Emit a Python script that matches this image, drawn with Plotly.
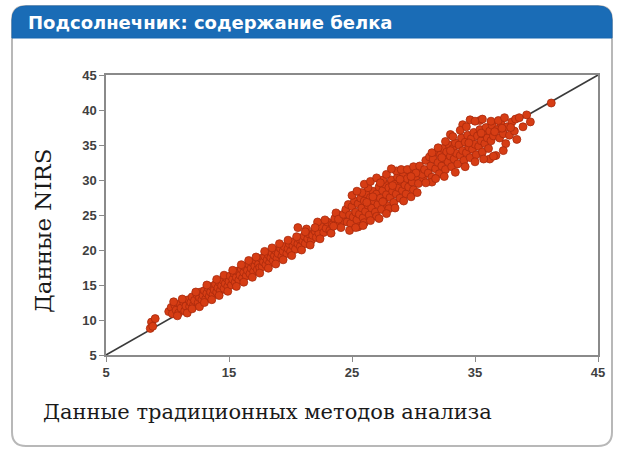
import plotly.graph_objects as go

# Sunflower protein content: reference lab method vs NIRS prediction (%)
# Samples grouped by range for readability.
lab_low = [
    8.6, 8.7, 8.8, 9.0,
    10.1, 10.3, 10.4, 10.6, 10.7, 10.9, 11.0, 11.1, 11.3, 11.4,
    11.5, 11.7, 11.8, 11.9, 12.0, 12.1, 12.2, 12.4, 12.5, 12.6,
    12.7, 12.8, 12.9, 13.0, 13.1, 13.2, 13.3, 13.4, 13.5, 13.6,
    13.7, 13.8, 13.9, 14.0, 14.1, 14.2, 14.3, 14.4, 14.5, 14.6,
    14.7, 14.8, 14.9, 15.0,
    10.5, 10.8, 11.2, 11.6, 12.0, 12.3, 12.6, 13.0, 13.2, 13.6,
    14.0, 14.2, 14.6, 14.9,
]
nirs_low = [
    8.8, 9.7, 9.1, 10.2,
    11.2, 11.8, 10.9, 12.1, 11.4, 11.0, 12.3, 11.7, 12.6, 11.3,
    12.0, 12.9, 11.9, 12.5, 13.3, 12.1, 12.8, 13.6, 12.5, 13.2,
    14.0, 12.9, 13.5, 14.2, 13.0, 13.8, 14.6, 13.4, 14.0, 14.8,
    13.6, 14.3, 15.1, 14.0, 14.6, 15.4, 14.2, 14.9, 15.7, 14.5,
    15.2, 16.0, 14.8, 15.5,
    12.6, 10.6, 13.0, 11.0, 11.6, 14.0, 11.9, 12.5, 15.0, 12.9,
    15.8, 13.5, 16.4, 14.1,
]

lab_mid = [
    15.1, 15.2, 15.3, 15.4, 15.5, 15.6, 15.7, 15.8, 15.9, 16.0,
    16.1, 16.2, 16.3, 16.4, 16.5, 16.6, 16.7, 16.8, 16.9, 17.0,
    17.1, 17.2, 17.3, 17.4, 17.5, 17.6, 17.7, 17.8, 17.9, 18.0,
    18.1, 18.2, 18.3, 18.4, 18.5, 18.6, 18.7, 18.8, 18.9, 19.0,
    19.2, 19.3, 19.4, 19.5, 19.7, 19.8, 19.9, 20.0, 20.2, 20.3,
    20.4, 20.6, 20.7, 20.8, 21.0, 21.1, 21.2, 21.4, 21.5, 21.7,
    21.8, 22.0, 22.1, 22.3, 22.5, 22.7, 22.9, 23.0, 23.2, 23.4,
    23.6, 23.8, 24.0, 24.2, 20.6, 22.2, 21.3,
    15.3, 15.6, 16.0, 16.2, 16.6, 16.9, 17.2, 17.5, 17.9, 18.2,
    18.5, 18.8, 19.1, 19.4, 19.8, 20.1, 20.5, 20.9, 21.2, 21.6,
    22.0, 22.4, 22.8, 23.3, 23.7, 24.1, 23.5, 23.9, 24.3,
]
nirs_mid = [
    16.3, 15.0, 15.8, 16.7, 15.4, 16.1, 17.0, 15.7, 16.4, 17.3,
    16.0, 16.8, 17.6, 16.3, 17.1, 18.0, 16.6, 17.4, 18.2, 16.9,
    17.7, 18.5, 17.2, 18.0, 17.5, 18.8, 17.6, 18.3, 19.1, 17.9,
    18.6, 19.3, 18.2, 18.9, 19.6, 18.5, 19.2, 19.9, 18.8, 19.5,
    20.2, 19.1, 19.8, 20.5, 19.5, 20.2, 20.9, 19.8, 20.6, 21.2,
    20.1, 20.9, 21.6, 20.5, 21.3, 22.0, 20.9, 21.6, 22.3, 21.4,
    22.1, 22.7, 21.8, 22.4, 23.3, 22.5, 23.1, 24.0, 22.8, 23.6,
    24.5, 23.7, 24.9, 24.1, 23.2, 24.0, 23.0,
    17.1, 14.8, 17.9, 15.4, 18.5, 16.1, 19.0, 16.7, 19.8, 17.4,
    20.3, 18.0, 20.9, 18.6, 21.4, 19.2, 21.9, 20.0, 22.6, 20.7,
    23.2, 21.6, 24.3, 22.4, 25.3, 23.2, 23.4, 24.4, 25.1,
]

lab_cluster_a = [
    24.5, 24.6, 24.7, 24.8, 24.9, 25.0, 25.1, 25.2, 25.3, 25.4,
    25.5, 25.6, 25.7, 25.8, 25.9, 26.0, 26.1, 26.2, 26.3, 26.4,
    26.5, 26.6, 26.7, 26.8, 26.9, 27.0, 27.1, 27.2, 27.3, 27.4,
    27.5, 27.6, 27.7, 27.8, 27.9, 28.0, 28.1, 28.2, 28.3, 28.4,
    28.5, 28.6, 28.7, 28.8, 28.9, 29.0, 29.1, 29.2, 29.3, 29.4,
    29.5, 29.6, 29.8, 29.9, 30.0, 30.2, 30.4, 30.6, 30.8,
    26.3, 27.5, 28.6, 25.8, 29.0, 27.0, 26.0, 28.0, 25.5, 29.6,
    25.0, 25.4, 26.0, 26.5, 27.0, 27.3, 27.8, 28.2, 24.8, 25.3,
    25.9, 26.5, 27.2, 27.8, 28.5, 29.2, 29.8, 30.3, 26.7, 27.5,
    28.3, 28.9, 29.5, 30.0, 26.2,
]
nirs_cluster_a = [
    25.8, 24.0, 26.5, 25.0, 23.8, 26.2, 24.7, 27.0, 25.4, 24.3,
    26.6, 25.1, 27.4, 26.0, 24.6, 27.0, 25.5, 28.0, 26.4, 25.0,
    27.5, 26.0, 28.4, 27.0, 25.4, 28.0, 26.5, 29.0, 27.4, 25.8,
    28.5, 27.0, 29.4, 27.9, 26.3, 28.9, 27.5, 30.0, 28.4, 26.8,
    29.4, 28.0, 30.4, 28.9, 27.4, 29.8, 28.5, 30.8, 29.3, 28.0,
    30.2, 29.0, 31.0, 29.7, 28.6, 30.5, 29.5, 31.2, 30.3,
    28.9, 30.0, 31.3, 28.2, 31.5, 24.8, 23.9, 25.9, 23.3, 31.4,
    27.8, 28.4, 29.4, 29.8, 30.3, 29.6, 30.8, 31.6, 22.8, 23.2,
    23.5, 24.2, 24.5, 25.2, 26.0, 27.0, 27.6, 28.2, 27.6, 26.9,
    29.2, 30.1, 31.5, 31.9, 26.8,
]

lab_cluster_b = [
    30.5, 30.7, 30.9, 31.0, 31.2, 31.3, 31.4, 31.5, 31.6, 31.8,
    31.9, 32.0, 32.1, 32.2, 32.3, 32.4, 32.5, 32.6, 32.7, 32.8,
    32.9, 33.0, 33.1, 33.2, 33.3, 33.4, 33.5, 33.6, 33.7, 33.8,
    33.9, 34.0, 34.1, 34.2, 34.3, 34.4, 34.5, 34.6, 34.7, 34.8,
    34.9, 35.0, 35.1, 35.2, 35.3, 35.4, 35.5, 35.6, 35.7, 35.8,
    35.9, 36.0, 36.1, 36.2, 36.3, 36.4, 36.5, 36.7, 36.8, 37.0,
    37.1, 37.3, 37.5, 37.6, 37.8, 38.0, 38.2, 38.4,
    34.6, 35.4, 36.2, 31.5, 33.0, 34.0,
    31.0, 31.8, 32.5, 33.4, 34.2, 35.0, 35.7, 36.5, 37.3, 31.5,
    32.0, 32.6, 33.2, 33.8, 34.3, 35.0, 35.6, 36.3, 36.9, 37.4,
    37.9, 38.3, 33.0, 34.5, 35.5, 36.6, 37.2, 32.3, 30.2, 29.8,
    38.6, 38.9, 39.2, 39.5, 41.2,
]
nirs_cluster_b = [
    32.0, 30.8, 31.5, 32.8, 31.0, 33.3, 32.0, 30.4, 33.0, 31.6,
    34.0, 32.5, 30.9, 33.6, 32.0, 34.5, 33.0, 31.5, 34.0, 32.6,
    35.0, 33.4, 31.9, 34.5, 33.0, 35.3, 33.8, 32.3, 35.0, 33.5,
    36.0, 34.2, 32.8, 35.4, 33.9, 36.4, 34.7, 33.2, 35.9, 34.4,
    36.8, 35.1, 33.6, 36.3, 34.8, 37.2, 35.6, 34.0, 36.6, 35.2,
    37.5, 36.0, 34.5, 37.0, 35.6, 37.8, 36.3, 33.5, 37.2, 36.0,
    38.1, 36.6, 35.2, 37.6, 36.4, 38.3, 37.0, 35.8,
    38.6, 38.5, 33.0, 29.7, 36.5, 37.9,
    29.6, 30.2, 30.5, 31.1, 31.9, 32.6, 33.0, 33.4, 34.2, 33.9,
    34.6, 35.5, 36.2, 37.1, 37.6, 38.4, 38.7, 38.4, 38.5, 38.9,
    37.5, 38.7, 34.2, 35.3, 36.7, 36.9, 37.4, 33.2, 31.0, 30.5,
    38.9, 37.6, 39.3, 38.3, 41.0,
]

lab_values = lab_low + lab_mid + lab_cluster_a + lab_cluster_b
nirs_values = nirs_low + nirs_mid + nirs_cluster_a + nirs_cluster_b

# 1:1 reference line
diag_values = [5, 45]

x_ticks = [5, 15, 25, 35, 45]
y_ticks = [5, 10, 15, 20, 25, 30, 35, 40, 45]

title_text = "Подсолнечник: содержание белка"
x_title = "Данные традиционных методов анализа"
y_title = "Данные NIRS"

W, H = 617, 451
ML, MR, MT, MB = 106, 19, 75, 96
PW, PH = W - ML - MR, H - MT - MB


def px(x):
    return (x - ML) / PW


def py(y):
    return (H - MB - y) / PH


def rounded_path(x0, y0, x1, y1, r, bottom_round=True):
    # pixel-space rectangle converted to paper coordinates
    rx = r / PW
    ry = r / PH
    X0, X1, Y0, Y1 = px(x0), px(x1), py(y0), py(y1)
    p = f"M {X0},{Y0 - ry} "
    p += f"Q {X0},{Y0} {X0 + rx},{Y0} "
    p += f"L {X1 - rx},{Y0} "
    p += f"Q {X1},{Y0} {X1},{Y0 - ry} "
    if bottom_round:
        p += f"L {X1},{Y1 + ry} "
        p += f"Q {X1},{Y1} {X1 - rx},{Y1} "
        p += f"L {X0 + rx},{Y1} "
        p += f"Q {X0},{Y1} {X0},{Y1 + ry} Z"
    else:
        p += f"L {X1},{Y1} L {X0},{Y1} Z"
    return p


fig = go.Figure()

fig.add_trace(go.Scatter(
    x=diag_values, y=diag_values, mode="lines",
    line=dict(color="#3a3a3a", width=1.6),
    hoverinfo="skip", showlegend=False,
))

fig.add_trace(go.Scatter(
    x=lab_values, y=nirs_values, mode="markers",
    marker=dict(symbol="circle", size=8, color="#d63d14",
                line=dict(color="#a82a0c", width=0.8)),
    showlegend=False,
))

shapes = [
    # outer card
    dict(type="path", xref="paper", yref="paper",
         path=rounded_path(12, 6, 612, 446, 14),
         line=dict(color="#b8b8b8", width=2), fillcolor="rgba(0,0,0,0)",
         layer="below"),
    # header band
    dict(type="path", xref="paper", yref="paper",
         path=rounded_path(12, 6, 612, 38, 14, bottom_round=False),
         line=dict(color="#1766b0", width=1), fillcolor="#1a6cb6",
         layer="below"),
]

annotations = [
    dict(text=title_text, xref="paper", yref="paper",
         x=px(26), y=py(22), xanchor="left", yanchor="middle",
         showarrow=False,
         font=dict(family="DejaVu Sans", size=18, color="white",
                   weight="bold")),
    dict(text=x_title, xref="paper", yref="paper",
         x=px(267), y=py(412), xanchor="center", yanchor="middle",
         showarrow=False,
         font=dict(family="DejaVu Serif", size=21, color="#1a1a1a")),
    dict(text=y_title, xref="paper", yref="paper",
         x=px(43), y=py(231), xanchor="center", yanchor="middle",
         textangle=-90, showarrow=False,
         font=dict(family="DejaVu Serif", size=23, color="#1a1a1a")),
]

axis_common = dict(
    range=[5, 45], showgrid=False, zeroline=False,
    showline=True, linecolor="#8a8a8a", linewidth=1.5, mirror=True,
    ticks="outside", ticklen=5, tickcolor="#8a8a8a",
    tickfont=dict(family="Liberation Sans, Arial", size=13, color="#404040",
                  weight="bold"),
)

fig.update_layout(
    width=W, height=H,
    margin=dict(l=ML, r=MR, t=MT, b=MB),
    paper_bgcolor="white", plot_bgcolor="white",
    xaxis=dict(axis_common, tickvals=x_ticks),
    yaxis=dict(axis_common, tickvals=y_ticks),
    shapes=shapes, annotations=annotations,
)

fig.write_html("out.html")
